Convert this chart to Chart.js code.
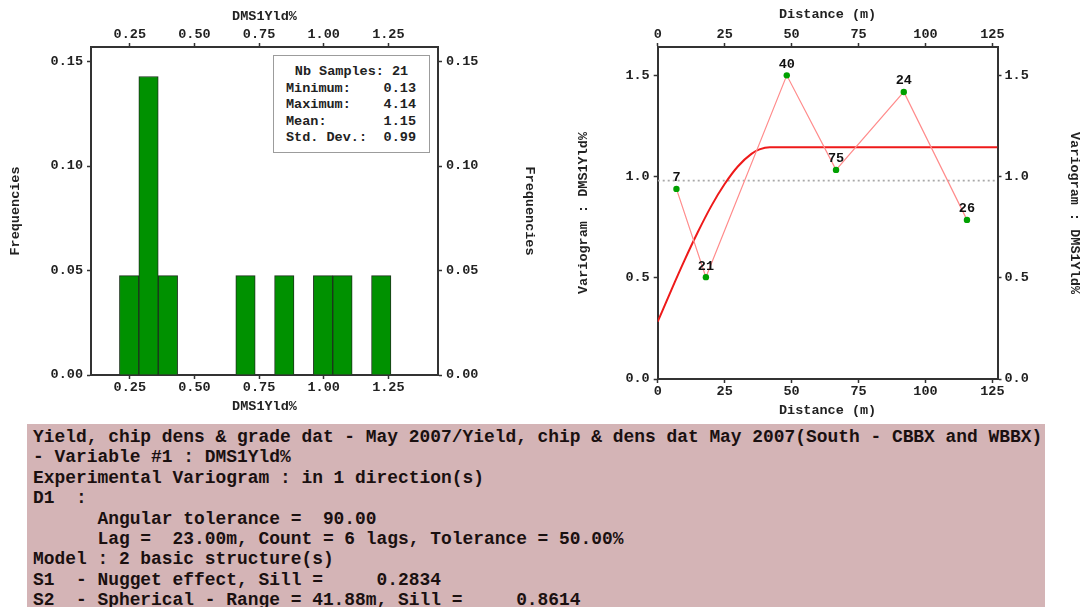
<!DOCTYPE html>
<html>
<head>
<meta charset="utf-8">
<script src="https://cdn.jsdelivr.net/npm/chart.js@4.4.1/dist/chart.umd.min.js"></script>
<style>
  html, body { margin: 0; padding: 0; background: #fff; }
  body { width: 1083px; height: 607px; overflow: hidden; position: relative; }
  #histWrap { position: absolute; left: 0; top: 0; width: 540px; height: 420px; }
  #varioWrap { position: absolute; left: 560px; top: 0; width: 523px; height: 420px; }
  #stats {
    position: absolute; left: 273px; top: 55px; width: 155px; height: 96px;
    border: 1.5px solid #9c9c9c; background: #fff;
    font: bold 13.5px "Liberation Mono", monospace; color: #222;
    box-sizing: content-box;
  }
  #stats .row { position: absolute; left: 12px; right: 13px; height: 16px; line-height: 16px; }
  #stats .row .v { position: absolute; right: 0; top: 0; }
  #stats .head { text-align: center; left: 0; right: 0; }
  #report {
    position: absolute; left: 27px; top: 424px; width: 1018px; height: 183px;
    background: #d4b4b6; color: #1a1010;
    font: bold 17.9px "Liberation Mono", monospace; line-height: 20.4px;
    padding: 3px 0 0 6px; box-sizing: border-box; white-space: pre; overflow: hidden;
  }
</style>
</head>
<body>
<div id="histWrap"><canvas id="hist"></canvas></div>
<div id="varioWrap"><canvas id="vario"></canvas></div>
<div id="stats"></div>
<div id="report"></div>

<script>
// ---- Histogram of DMS1Yld% ----
const binCentres = [0.2475, 0.3225, 0.3975, 0.4725, 0.5475, 0.6225, 0.6975, 0.7725, 0.8475, 0.9225, 0.9975, 1.0725, 1.1475, 1.2225];
const binFrequencies = [0.0476, 0.1429, 0.0476, null, null, null, 0.0476, null, 0.0476, null, 0.0476, 0.0476, null, 0.0476];
const histTicksX = [0.25, 0.50, 0.75, 1.00, 1.25];
const histTicksY = [0.00, 0.05, 0.10, 0.15];
const histRangeX = [0.10, 1.442];
const histRangeY = [0, 0.157];

// ---- Summary statistics ----
const statNames = ['Minimum:', 'Maximum:', 'Mean:', 'Std. Dev.:'];
const statValues = ['0.13', '4.14', '1.15', '0.99'];
const sampleCount = 21;

// ---- Experimental variogram (lag distance, gamma, number of pairs) ----
const lagDistance = [7.0, 18.0, 48.2, 66.6, 91.9, 115.5];
const lagGamma = [0.939, 0.503, 1.500, 1.033, 1.418, 0.786];
const lagPairs = [7, 21, 40, 75, 24, 26];

// ---- Fitted model: nugget + spherical ----
const modelDistance = [0, 5, 10, 15, 20, 25, 30, 35, 38, 41.88, 126.9];
const modelGamma = [0.283, 0.437, 0.586, 0.726, 0.854, 0.963, 1.051, 1.112, 1.134, 1.145, 1.145];
const varianceLevel = 0.98;

const varioTicksX = [0, 25, 50, 75, 100, 125];
const varioTicksY = [0.0, 0.5, 1.0, 1.5];
const varioRangeX = [0, 126.9];
const varioRangeY = [0, 1.64];

// ---- Report text ----
const reportLines = [
  'Yield, chip dens & grade dat - May 2007/Yield, chip & dens dat May 2007(South - CBBX and WBBX)',
  '- Variable #1 : DMS1Yld%',
  'Experimental Variogram : in 1 direction(s)',
  'D1  :',
  '      Angular tolerance =  90.00',
  '      Lag =  23.00m, Count = 6 lags, Tolerance = 50.00%',
  'Model : 2 basic structure(s)',
  'S1  - Nugget effect, Sill =     0.2834',
  'S2  - Spherical - Range = 41.88m, Sill =     0.8614'
];

// stats box
const stats = document.getElementById('stats');
let html = '<div class="row head" style="top:8px">Nb Samples: ' + sampleCount + '</div>';
statNames.forEach((n, i) => {
  html += '<div class="row" style="top:' + (25 + i * 16.4) + 'px"><span>' + n + '</span><span class="v">' + statValues[i] + '</span></div>';
});
stats.innerHTML = html;
document.getElementById('report').textContent = reportLines.join('\n');

// ---- shared axis styling ----
const FONT = { family: '"Liberation Mono", monospace', size: 13.5, weight: 'bold' };
const INK = '#222';

function axis(opts) {
  return {
    type: 'linear',
    position: opts.pos,
    min: opts.range[0],
    max: opts.range[1],
    offset: false,
    afterBuildTicks: s => { s.ticks = opts.ticks.map(v => ({ value: v })); },
    afterFit: s => { if (s.isHorizontal()) s.height = opts.size; else s.width = opts.size; },
    grid: { drawOnChartArea: false, drawTicks: true, tickLength: 4, tickColor: '#333', tickWidth: 1.5, offset: false },
    border: { display: true, color: '#333', width: 2 },
    ticks: {
      callback: v => v.toFixed(opts.digits),
      font: FONT, color: INK, padding: opts.tickPad,
      maxRotation: 0, minRotation: 0, autoSkip: false
    },
    title: { display: true, text: opts.title, font: FONT, color: INK, padding: opts.titlePad }
  };
}

// ---- histogram chart ----
new Chart(document.getElementById('hist'), {
  type: 'bar',
  data: {
    datasets: [{
      data: binCentres.map((c, i) => ({ x: c, y: binFrequencies[i] })),
      backgroundColor: '#009100',
      borderColor: '#1d331d',
      borderWidth: 1,
      barPercentage: 1,
      categoryPercentage: 1,
      xAxisID: 'x',
      yAxisID: 'y'
    }]
  },
  options: {
    responsive: true,
    maintainAspectRatio: false,
    animation: false,
    events: [],
    layout: { padding: 0 },
    plugins: { legend: { display: false }, tooltip: { enabled: false } },
    scales: {
      x: axis({ pos: 'bottom', range: histRangeX, ticks: histTicksX, digits: 2, size: 45, tickPad: 0, title: 'DMS1Yld%', titlePad: 5 }),
      x2: axis({ pos: 'top', range: histRangeX, ticks: histTicksX, digits: 2, size: 47, tickPad: 0, title: 'DMS1Yld%', titlePad: 8 }),
      y: axis({ pos: 'left', range: histRangeY, ticks: histTicksY, digits: 2, size: 91, tickPad: 4, title: 'Frequencies', titlePad: 7 }),
      y2: axis({ pos: 'right', range: histRangeY, ticks: histTicksY, digits: 2, size: 102, tickPad: 4, title: 'Frequencies', titlePad: 2 })
    }
  }
});

// pair counts written above each experimental point
const pairLabels = {
  id: 'pairLabels',
  afterDatasetsDraw(chart) {
    const meta = chart.getDatasetMeta(1);
    const ctx = chart.ctx;
    ctx.save();
    ctx.font = 'bold 13.5px "Liberation Mono", monospace';
    ctx.fillStyle = '#111';
    ctx.textAlign = 'center';
    ctx.textBaseline = 'middle';
    meta.data.forEach((pt, i) => ctx.fillText(String(lagPairs[i]), pt.x, pt.y - 11));
    ctx.restore();
  }
};

// ---- variogram chart ----
new Chart(document.getElementById('vario'), {
  type: 'line',
  data: {
    datasets: [
      {
        data: modelDistance.map((d, i) => ({ x: d, y: modelGamma[i] })),
        borderColor: '#ee1a1a', borderWidth: 2, pointRadius: 0, tension: 0.3,
        cubicInterpolationMode: 'monotone', order: 2, xAxisID: 'x', yAxisID: 'y'
      },
      {
        data: lagDistance.map((d, i) => ({ x: d, y: lagGamma[i] })),
        borderColor: '#ff8c8c', borderWidth: 1.2,
        pointRadius: 3.2, pointBackgroundColor: '#00a000', pointBorderWidth: 0,
        order: 1, xAxisID: 'x', yAxisID: 'y'
      },
      {
        data: [{ x: varioRangeX[0], y: varianceLevel }, { x: varioRangeX[1], y: varianceLevel }],
        borderColor: '#a8a8a8', borderWidth: 1.6, borderDash: [2, 3], pointRadius: 0,
        order: 3, xAxisID: 'x', yAxisID: 'y'
      }
    ]
  },
  options: {
    responsive: true,
    maintainAspectRatio: false,
    animation: false,
    events: [],
    layout: { padding: 0 },
    plugins: { legend: { display: false }, tooltip: { enabled: false } },
    scales: {
      x: axis({ pos: 'bottom', range: varioRangeX, ticks: varioTicksX, digits: 0, size: 41, tickPad: 0, title: 'Distance (m)', titlePad: 1 }),
      x2: axis({ pos: 'top', range: varioRangeX, ticks: varioTicksX, digits: 0, size: 47, tickPad: 0, title: 'Distance (m)', titlePad: 6 }),
      y: axis({ pos: 'left', range: varioRangeY, ticks: varioTicksY, digits: 1, size: 97.7, tickPad: 4, title: 'Variogram : DMS1Yld%', titlePad: 15 }),
      y2: axis({ pos: 'right', range: varioRangeY, ticks: varioTicksY, digits: 1, size: 85.5, tickPad: 3, title: 'Variogram : DMS1Yld%', titlePad: 0 })
    }
  },
  plugins: [pairLabels]
});
</script>
</body>
</html>
